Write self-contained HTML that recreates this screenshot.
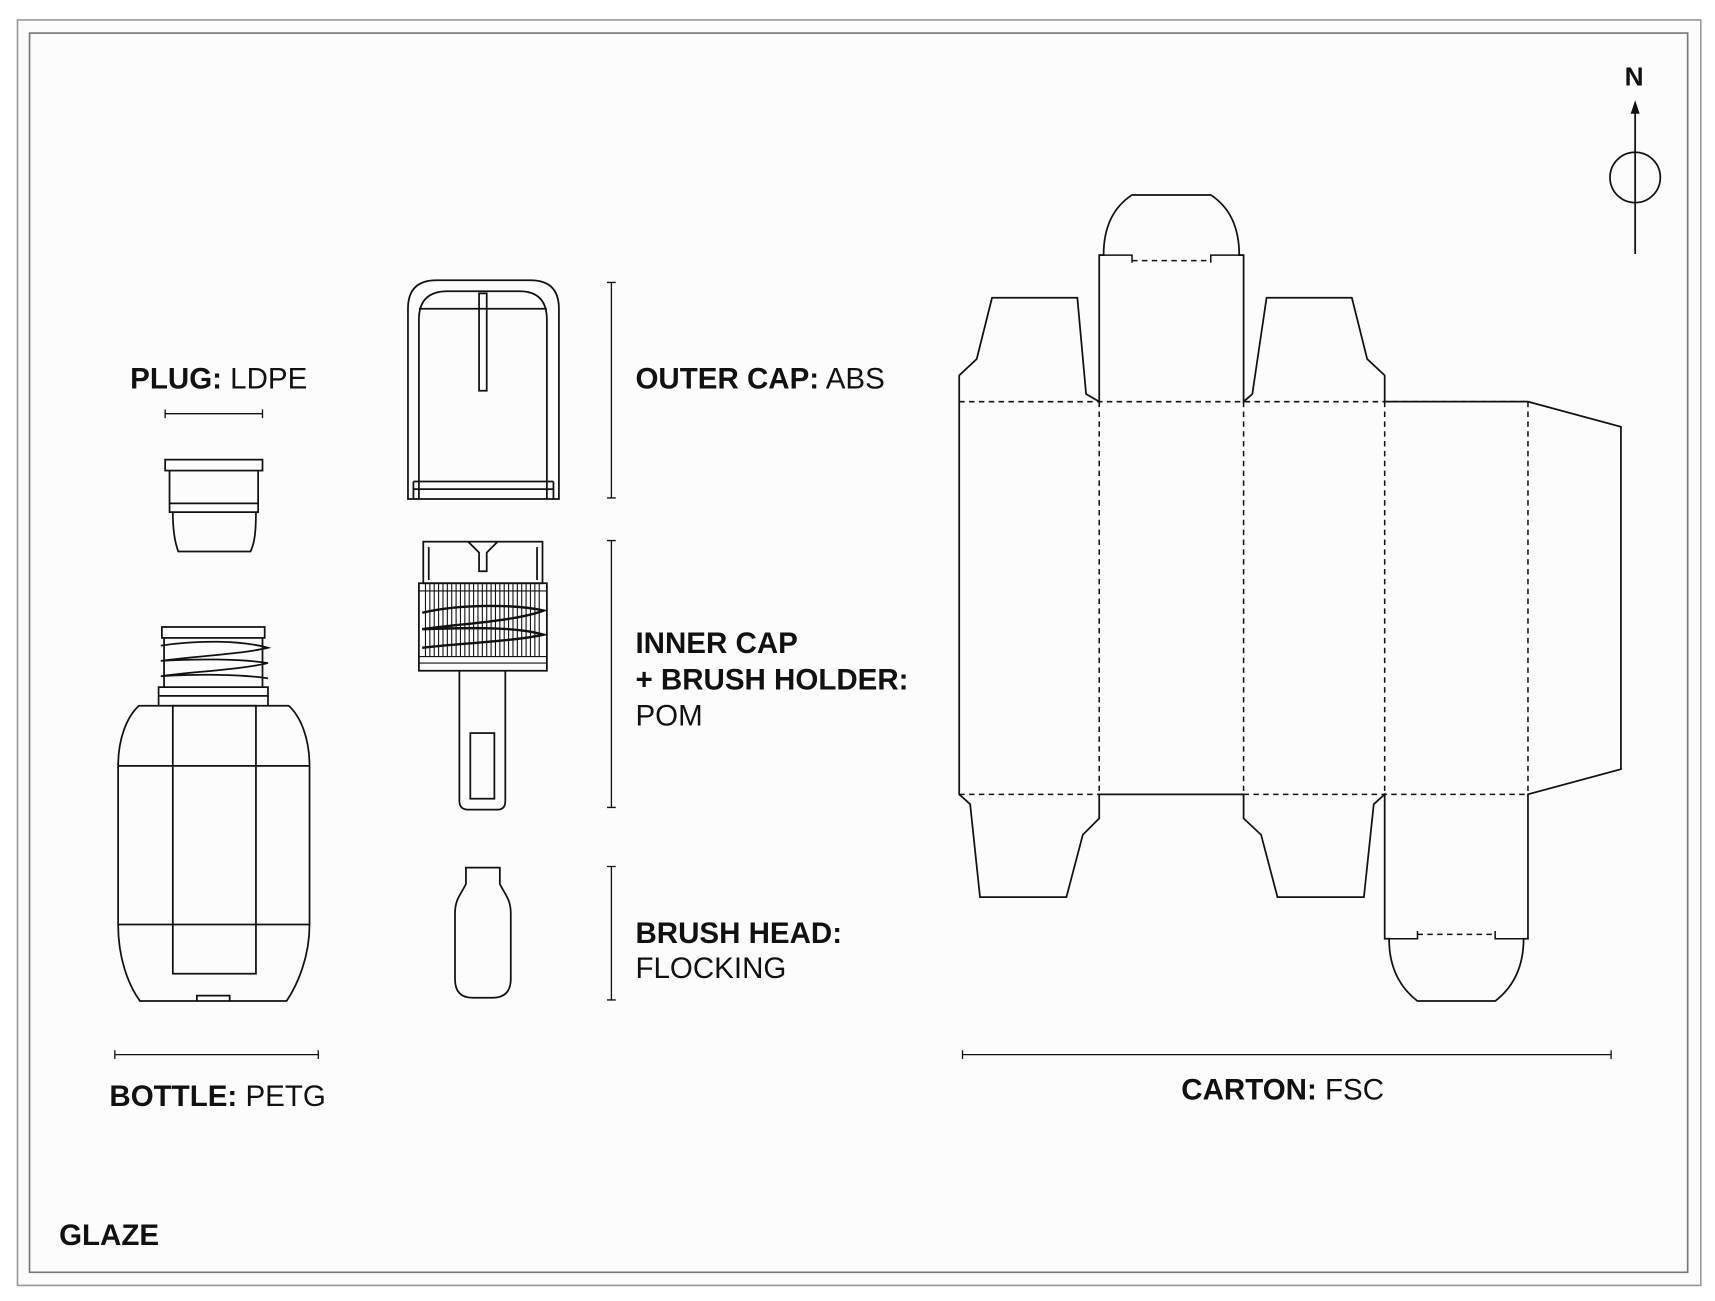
<!DOCTYPE html>
<html><head><meta charset="utf-8"><style>
html,body{margin:0;padding:0;background:#fff;}
svg{display:block;}
text{font-family:"Liberation Sans",sans-serif;fill:#111;}
.b{font-weight:bold;}
</style></head><body>
<svg width="1715" height="1301" viewBox="0 0 1568 1189" xmlns="http://www.w3.org/2000/svg">
<rect x="0" y="0" width="1568" height="1189" fill="#fff"/>
<rect x="16" y="18" width="1539" height="1157" fill="#fcfcfd" stroke="#999" stroke-width="1.5"/>
<rect x="27" y="30" width="1516" height="1133" fill="#fcfcfd" stroke="#777" stroke-width="1.5"/>
<g fill="none" stroke="#111" stroke-width="1.6">
<line x1="1495" y1="97" x2="1495" y2="232"/>
<path d="M1492,103 L1495,94 L1498,103 Z" fill="#111"/>
<circle cx="1495" cy="162" r="23"/>
<path d="M151,378 H240 M151,374 V382 M240,374 V382" stroke-width="1.2"/>
<rect x="151" y="420" width="89" height="10"/>
<path d="M155,430 V460 H236 V430 M155,460 V468 H236 V460 M158,468 C158,485 160,496 163,504 H229 C233,496 234,485 234,468"/>
<path d="M105,964 H291 M105,960 V968 M291,960 V968" stroke-width="1.2"/>
<rect x="148" y="573" width="94" height="10"/>
<path d="M150,583 V628 M240,583 V628"/>
<path d="M147,590 C180,585 220,585 245,592 C220,598 175,600 147,604 C180,602 220,602 245,606 C220,612 175,614 147,618 C180,616 220,616 245,620"/>
<rect x="145" y="628" width="100" height="8"/>
<path d="M145,636 V645 M245,636 V645"/>
<path d="M127,645 H264 C275,655 283,675 283,700 V845 C283,875 272,900 262,915 H128 C117,900 108,875 108,845 V700 C108,675 116,655 127,645 Z"/>
<path d="M108,700 H283 M108,845 H283"/>
<rect x="158" y="645" width="76" height="245"/>
<path d="M180,915 V910 H210 V915"/>
<path d="M373,456 V282 Q373,256 399,256 H485 Q511,256 511,282 V456 Z"/>
<path d="M383,456 V292 Q383,266 409,266 H475 Q500,266 500,292 V456"/>
<path d="M383,282 H500"/>
<rect x="438" y="268" width="7" height="89"/>
<path d="M378,440 H506 M378,447 H506 M378,440 V456 M506,440 V456"/>
<path d="M559,258 V455 M555,258 H563 M555,455 H563" stroke-width="1.2"/>
<rect x="387" y="495" width="109" height="38"/>
<path d="M392,500 V530 M491,500 V530"/>
<path d="M428,495 L438,505 V522 H445 V505 L455,495"/>
<rect x="383" y="533" width="117" height="80"/>
<path d="M383,540 H500 M383,600 H500 M383,606 H500" stroke-width="1"/>
<path d="M389,533V600M393,533V600M397,533V600M401,533V600M405,533V600M409,533V600M413,533V600M417,533V600M421,533V600M425,533V600M429,533V600M433,533V600M437,533V600M441,533V600M445,533V600M449,533V600M453,533V600M457,533V600M461,533V600M465,533V600M469,533V600M473,533V600M477,533V600M481,533V600M485,533V600M489,533V600M493,533V600" stroke-width="1"/>
<path d="M386,560 C420,552 470,552 497,558 C470,568 420,570 386,575 C420,574 470,572 497,580 C470,586 420,588 386,592" stroke-width="2.2"/>
<path d="M420,613 V732 Q420,740 428,740 H455 Q462,740 462,732 V613"/>
<rect x="430" y="670" width="22" height="60"/>
<path d="M559,494 V738 M555,494 H563 M555,738 H563" stroke-width="1.2"/>
<path d="M426,793 H457 V808 C462,818 467,822 467,835 V895 Q467,912 450,912 H432 Q416,912 416,895 V835 C416,822 421,818 426,808 Z"/>
<path d="M559,792 V914 M555,792 H563 M555,914 H563" stroke-width="1.2"/>
<path d="M877,367 V343 L893,328 L907,272 H985 L993,360 L1005,367 V233 H1009 Q1009,195 1035,178 H1107 Q1133,195 1133,233 H1137 V367 L1145,360 L1158,272 H1236 L1250,328 L1266,343 V367 H1397 L1482,390 V703 L1397,726 V858 H1393 Q1393,895 1367,915 H1296 Q1270,895 1270,858 H1266 V726 L1256,735 L1247,820 H1168 L1153,763 L1137,748 V726 H1005 V748 L990,763 L975,820 H896 L887,735 L877,726 Z"/>
<path d="M1005,233 H1035 V240 M1137,233 H1107 V240 M1266,858 H1296 V851 M1397,858 H1367 V851" stroke-width="1.4"/>
<g stroke-dasharray="5,4" stroke-width="1.4">
<path d="M877,367 H1397 M877,726 H1005 M1137,726 H1397 M1005,367 V726 M1137,367 V726 M1266,367 V726 M1397,367 V726 M1035,238 H1107 M1296,854 H1367"/>
</g>
<path d="M880,964 H1473 M880,960 V968 M1473,960 V968" stroke-width="1.2"/>
</g>
<text x="1494" y="78" text-anchor="middle" class="b" font-size="24">N</text>
<text x="119" y="355" font-size="27"><tspan class="b">PLUG:</tspan> LDPE</text>
<text x="100" y="1011" font-size="27"><tspan class="b">BOTTLE:</tspan> PETG</text>
<text x="581" y="355" font-size="27"><tspan class="b">OUTER CAP:</tspan> ABS</text>
<text x="581" y="597" font-size="27" class="b">INNER CAP</text>
<text x="581" y="630" font-size="27" class="b">+ BRUSH HOLDER:</text>
<text x="581" y="663" font-size="27">POM</text>
<text x="581" y="862" font-size="27" class="b">BRUSH HEAD:</text>
<text x="581" y="894" font-size="27">FLOCKING</text>
<text x="1080" y="1005" font-size="27"><tspan class="b">CARTON:</tspan> FSC</text>
<text x="54" y="1138" font-size="27" class="b">GLAZE</text>
</svg>
</body></html>
